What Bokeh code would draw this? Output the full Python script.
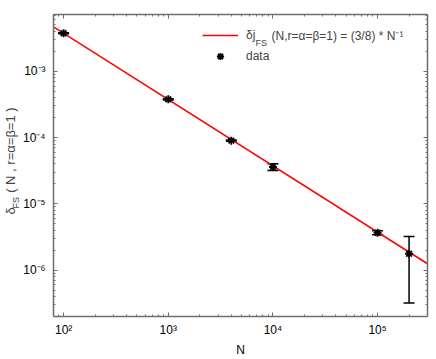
import math
from bokeh.plotting import figure
from bokeh.models import (ColumnDataSource, Whisker, TeeHead, LogAxis, FixedTicker,
                          Label, Legend, LegendItem, CustomJSTickFormatter, Range1d)
from bokeh.embed import file_html
from bokeh.resources import INLINE

# ---- data ----
N = [100, 1000, 4000, 10000, 100000, 200000]
delta = [3.75e-3, 3.78e-4, 9.0e-5, 3.6e-5, 3.67e-6, 1.77e-6]
err = [6e-5, 8e-6, 2e-6, 4.2e-6, 2.5e-7, 1.45e-6]
N_fit = [80, 300000]
fit_coef = 3.0 / 8.0
x_major = [1e2, 1e3, 1e4, 1e5]
y_major = [1e-7, 1e-6, 1e-5, 1e-4, 1e-3, 1e-2]
x_minor = [m * 10.0 ** k for k in range(1, 6) for m in range(2, 10)]
y_minor = [m * 10.0 ** k for k in range(-7, -1) for m in range(2, 10)]

FONT = "Liberation Sans"
NB = "\u00a0"

src = ColumnDataSource(dict(
    N=N, delta=delta,
    upper=[d + e for d, e in zip(delta, err)],
    lower=[d - e for d, e in zip(delta, err)],
))
fit_src = ColumnDataSource(dict(N=N_fit, y=[fit_coef / n for n in N_fit]))

p = figure(width=436, height=359, x_axis_type="log", y_axis_type="log",
           x_range=Range1d(80, 3e5), y_range=Range1d(2.0e-7, 7.2e-3),
           output_backend="svg", toolbar_location=None,
           min_border_left=53, min_border_right=9, min_border_top=14, min_border_bottom=43)
p.outline_line_color = None
p.xgrid.visible = False
p.ygrid.visible = False
p.background_fill_color = "white"

sup_code = """
const sup = {"-":"\u207b","0":"\u2070","1":"\u00b9","2":"\u00b2","3":"\u00b3","4":"\u2074",
             "5":"\u2075","6":"\u2076","7":"\u2077","8":"\u2078","9":"\u2079"};
const e = Math.round(Math.log10(tick));
return "10" + String(e).split("").map(c => sup[c]).join("");
"""

AX_COLOR = "#6e6e6e"

def style_axis(ax, show_labels):
    ax.axis_line_color = AX_COLOR
    ax.axis_line_width = 1.5
    ax.major_tick_line_color = AX_COLOR
    ax.minor_tick_line_color = AX_COLOR
    ax.major_tick_in = 4
    ax.major_tick_out = 0
    ax.minor_tick_in = 2
    ax.minor_tick_out = 0
    if show_labels:
        ax.major_label_text_font = FONT
        ax.major_label_text_font_size = "12px"
        ax.major_label_text_color = "black"
        ax.formatter = CustomJSTickFormatter(code=sup_code)
    else:
        ax.formatter = CustomJSTickFormatter(code="return '';")
        ax.major_label_text_font_size = "1px"
        ax.major_label_standoff = 0

p.xaxis.ticker = FixedTicker(ticks=x_major, minor_ticks=x_minor)
p.yaxis.ticker = FixedTicker(ticks=y_major, minor_ticks=y_minor)
style_axis(p.xaxis[0], True)
style_axis(p.yaxis[0], True)
p.xaxis[0].major_label_standoff = 6
p.yaxis[0].major_label_standoff = 8

# x axis label
p.xaxis[0].axis_label = "N"
p.xaxis[0].axis_label_text_font = FONT
p.xaxis[0].axis_label_text_font_size = "12px"
p.xaxis[0].axis_label_text_font_style = "normal"
p.xaxis[0].axis_label_text_color = "black"
p.xaxis[0].axis_label_standoff = 3

top_ax = LogAxis(ticker=FixedTicker(ticks=x_major, minor_ticks=x_minor))
right_ax = LogAxis(ticker=FixedTicker(ticks=y_major, minor_ticks=y_minor))
style_axis(top_ax, False)
style_axis(right_ax, False)
p.add_layout(top_ax, "above")
p.add_layout(right_ax, "right")

# fit line
fit_r = p.line("N", "y", source=fit_src, line_color="red", line_width=1.5)

# error bars
wh = Whisker(source=src, base="N", upper="upper", lower="lower",
             line_color="black", line_width=1.5,
             upper_head=TeeHead(size=11, line_color="black", line_width=1.5),
             lower_head=TeeHead(size=11, line_color="black", line_width=1.5))
p.add_layout(wh)

pts = p.scatter("N", "delta", source=src, marker="asterisk", size=8,
                line_color="black", line_width=1.8)

legend = Legend(items=[LegendItem(label="\u03b4j", renderers=[fit_r]),
                       LegendItem(label="data", renderers=[pts])],
                location=(149, 251), border_line_color=None, background_fill_alpha=0,
                label_text_font=FONT, label_text_font_size="12px",
                glyph_width=36, glyph_height=18, label_height=18, spacing=3,
                padding=0, margin=0, label_standoff=8)
p.add_layout(legend)

p.add_layout(Label(x=202, y=274, x_units="screen", y_units="screen", text="FS",
                   text_font=FONT, text_font_size="9px", text_baseline="middle"))
p.add_layout(Label(x=218, y=281, x_units="screen", y_units="screen",
                   text="(N,r=\u03b1=\u03b2=1) = (3/8) * N\u207b\u00b9",
                   text_font=FONT, text_font_size="12px", text_baseline="middle"))

# y axis label: main text in the left side panel, subscript in the top panel
ang = math.pi / 2
p.add_layout(Label(x=6, y=102, x_units="screen", y_units="screen",
                   text="\u03b4" + NB * 4 + "( N , r=\u03b1=\u03b2=1 )",
                   angle=ang, text_font=FONT, text_font_size="13px",
                   text_align="left", text_baseline="middle"), "left")
p.add_layout(Label(x=-38, y=-194, x_units="screen", y_units="screen", text="FS",
                   angle=ang, text_font=FONT, text_font_size="9px",
                   text_align="left", text_baseline="middle"), "above")

open("out.html", "w").write(file_html(p, INLINE))
